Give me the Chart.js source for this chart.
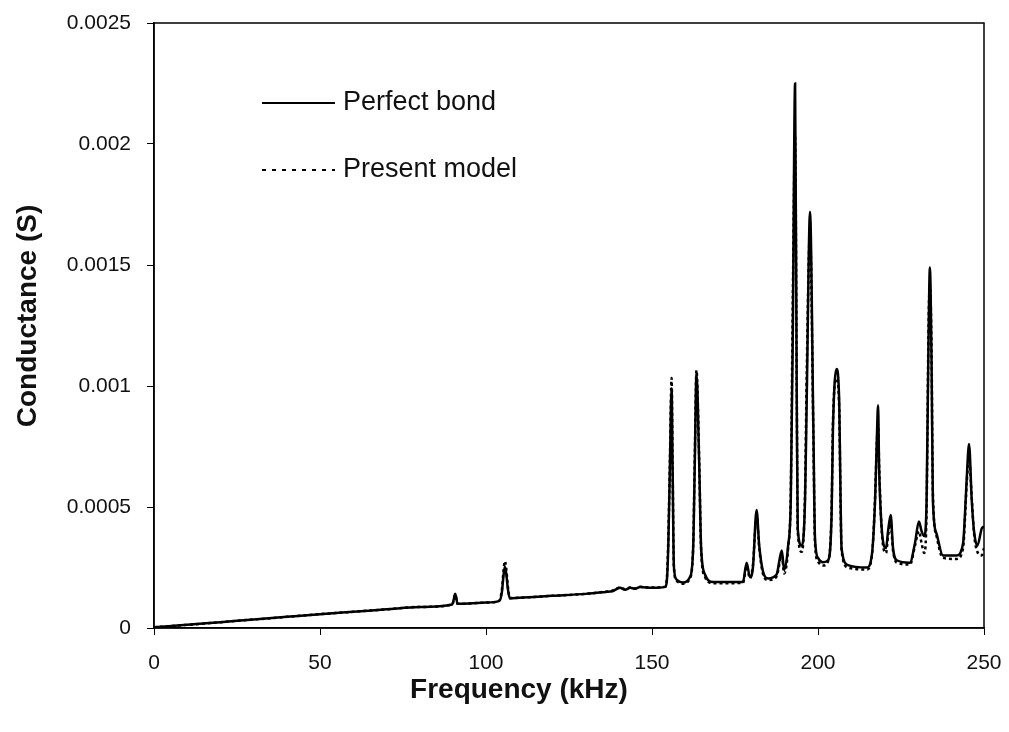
<!DOCTYPE html>
<html>
<head>
<meta charset="utf-8">
<script src="https://cdn.jsdelivr.net/npm/chart.js@4/dist/chart.umd.min.js"></script>
<style>
  html, body { margin: 0; padding: 0; background: #fff; }
  #wrap { width: 1009px; height: 732px; }
</style>
</head>
<body>
<div id="wrap"><canvas id="chart"></canvas></div>
<script>
// frequency (kHz)
const freq = [0, 10, 20, 30, 40, 50, 60, 70, 80, 89.8, 90.4, 90.7, 91.0, 91.4, 95, 100,
  104, 104.8, 105.3, 105.7, 106.1, 106.6, 107.2, 110, 120, 130, 136, 138, 140.4, 141.9,
  143.4, 144.9, 146.4, 150, 154, 154.5, 154.9, 155.4, 155.9, 156.2, 156.6, 157.4, 159.4,
  161.4, 162.4, 162.9, 163.4, 164.2, 164.8, 166, 168.4, 177.4, 178.5, 179.5, 180.4, 181.5,
  182.3, 183.5, 185, 187.5, 189.1, 189.8, 191, 191.8, 192.4, 193.1, 193.6, 193.9, 195.1,
  196.1, 196.6, 197.6, 198.6, 199.1, 200, 201.5, 203, 204.1, 204.5, 205.6, 206.4, 206.8,
  207.1, 209, 214.7, 216.2, 217.2, 217.7, 218.1, 218.4, 219.2, 220.5, 221.1, 221.9, 222.6,
  223.7, 227.7, 229.2, 230.4, 231.2, 232, 232.7, 233.3, 233.7, 234.2, 234.6, 235.7, 237.6,
  241.7, 243.7, 244.3, 244.8, 245.5, 246.3, 247, 248, 249.3, 250];

// conductance (S), perfect bond
const perfectBond = [0.000003, 0.000013, 0.000024, 0.000035, 0.000046, 0.000057, 0.000067,
  0.000077, 0.000087, 0.000097, 0.000125, 0.000142, 0.000128, 0.0001, 0.000101, 0.000105,
  0.000112, 0.00015, 0.00022, 0.000253, 0.000225, 0.00016, 0.000122, 0.000125, 0.000133,
  0.000141, 0.000149, 0.000152, 0.000166, 0.000158,
  0.000166, 0.000162, 0.000169, 0.000166, 0.00017, 0.0002, 0.000336, 0.00067, 0.00099,
  0.00067, 0.000253, 0.0002, 0.000188,
  0.00021, 0.00033, 0.00069, 0.00105, 0.00069, 0.00033, 0.00022, 0.00019, 0.00019, 0.00027,
  0.00021, 0.00025, 0.000488,
  0.00034, 0.00023, 0.000205, 0.00022, 0.00032, 0.00024, 0.00034, 0.00053, 0.0012, 0.00225,
  0.00094, 0.00041, 0.00034,
  0.00053, 0.00094, 0.00172, 0.00083, 0.00037, 0.00029, 0.000272, 0.00028, 0.00047, 0.00082,
  0.00107, 0.00093, 0.00053,
  0.00033, 0.00026, 0.00025, 0.0003, 0.00053, 0.00077, 0.00092, 0.00067, 0.00041, 0.00033,
  0.0004, 0.000467, 0.00033,
  0.00028, 0.00027, 0.00035, 0.00044, 0.0004, 0.00038, 0.00052, 0.0012, 0.00149, 0.0011,
  0.00053, 0.00039, 0.0003,
  0.0003, 0.00035, 0.00048, 0.00062, 0.00076, 0.00053, 0.0004, 0.00034, 0.00041, 0.00042];

// conductance (S), present model
const presentModel = [0.000003, 0.000013, 0.000024, 0.000035, 0.000046, 0.000057, 0.000067,
  0.000077, 0.000087, 0.000097, 0.000122, 0.000138, 0.000125, 0.0001, 0.000101, 0.000105,
  0.000113, 0.00016, 0.00024, 0.000276, 0.000245, 0.00017, 0.000124, 0.000125, 0.000133,
  0.000141, 0.00015, 0.000154, 0.000168, 0.00016,
  0.000167, 0.000163, 0.00017, 0.000167, 0.000171, 0.00021, 0.00036, 0.0007, 0.001033,
  0.00068, 0.00025, 0.000195, 0.000183,
  0.000205, 0.00034, 0.00072, 0.001065, 0.0007, 0.00032, 0.00021, 0.000185, 0.000186, 0.000255,
  0.000205, 0.00026, 0.000465,
  0.00033, 0.00022, 0.000198, 0.000212, 0.0003, 0.000225, 0.00033, 0.00056, 0.00135, 0.00203,
  0.001, 0.0004, 0.000315,
  0.00056, 0.00105, 0.00164, 0.0008, 0.00035, 0.000275, 0.000258, 0.000275, 0.00049, 0.00085,
  0.00103, 0.0009, 0.00051,
  0.00032, 0.00025, 0.000242, 0.000295, 0.00054, 0.00076, 0.00084, 0.00068, 0.0004, 0.00031,
  0.00038, 0.00043, 0.00032,
  0.00027, 0.000262, 0.00034, 0.0004, 0.00035, 0.00031, 0.00048, 0.00125, 0.00142, 0.00115,
  0.00056, 0.00038, 0.00029,
  0.000285, 0.00033, 0.00046, 0.0006, 0.0007, 0.00054, 0.00039, 0.000315, 0.0003, 0.00033];

const xTicks = [0, 50, 100, 150, 200, 250];
const yTickLabels = ["0", "0.0005", "0.001", "0.0015", "0.002", "0.0025"];
const xTitle = "Frequency (kHz)";
const yTitle = "Conductance (S)";

const FONT = "'Liberation Sans', Arial, sans-serif";

function toPoints(ys) {
  return freq.map((f, i) => ({ x: f, y: ys[i] }));
}

// box round the plot, legend inside it, axis titles
const frameAndLegend = {
  id: "frameAndLegend",
  afterDraw(chart) {
    const { ctx, chartArea } = chart;
    ctx.save();
    ctx.strokeStyle = "#000";
    ctx.lineWidth = 1.5;
    ctx.strokeRect(chartArea.left, chartArea.top, chartArea.right - chartArea.left, chartArea.bottom - chartArea.top);

    const rows = [
      { ds: chart.data.datasets[0], y: chartArea.top + 80 },
      { ds: chart.data.datasets[1], y: chartArea.top + 147 }
    ];
    const x0 = chartArea.left + 108;
    const x1 = chartArea.left + 181;
    rows.forEach(r => {
      ctx.beginPath();
      ctx.setLineDash(r.ds.borderDash ? [4, 6] : []);
      ctx.lineWidth = 2;
      ctx.strokeStyle = r.ds.borderColor;
      ctx.moveTo(x0, r.y);
      ctx.lineTo(x1, r.y);
      ctx.stroke();
      ctx.setLineDash([]);
      ctx.fillStyle = "#111";
      ctx.font = "27px " + FONT;
      ctx.textBaseline = "middle";
      ctx.textAlign = "left";
      ctx.fillText(r.ds.label, x1 + 8, r.y);
    });

    // axis titles (the x one sits left of the plot centre in the original)
    ctx.font = "bold 28px " + FONT;
    ctx.fillStyle = "#111";
    ctx.textAlign = "center";
    ctx.textBaseline = "middle";
    ctx.fillText(xTitle, 519, 690);
    ctx.translate(28, 316);
    ctx.rotate(-Math.PI / 2);
    ctx.fillText(yTitle, 0, 0);
    ctx.restore();
  }
};

new Chart(document.getElementById("chart"), {
  type: "line",
  data: {
    datasets: [
      {
        label: "Perfect bond",
        data: toPoints(perfectBond),
        borderColor: "#000",
        borderWidth: 2.5,
        pointRadius: 0,
        cubicInterpolationMode: "monotone",
        fill: false
      },
      {
        label: "Present model",
        data: toPoints(presentModel),
        borderColor: "#000",
        borderWidth: 2.5,
        borderDash: [3, 3],
        pointRadius: 0,
        cubicInterpolationMode: "monotone",
        fill: false
      }
    ]
  },
  options: {
    responsive: true,
    maintainAspectRatio: false,
    animation: false,
    layout: { padding: { left: 0, top: 23, right: 25, bottom: 0 } },
    plugins: {
      legend: { display: false },
      tooltip: { enabled: false }
    },
    scales: {
      x: {
        type: "linear",
        min: 0,
        max: 250,
        afterFit: s => { s.height = 104; s.paddingLeft = 0; s.paddingRight = 0; },
        afterBuildTicks: s => { s.ticks = xTicks.map(v => ({ value: v })); },
        grid: { display: true, drawOnChartArea: false, tickLength: 7, color: "#000", lineWidth: 1 },
        border: { display: true, color: "#000", width: 1.5 },
        ticks: { color: "#111", font: { family: FONT, size: 21 }, padding: 16, maxRotation: 0 }
      },
      y: {
        min: 0,
        max: 0.0025,
        afterFit: s => { s.width = 154; s.paddingTop = 0; s.paddingBottom = 0; },
        afterBuildTicks: s => { s.ticks = yTickLabels.map((t, i) => ({ value: i * 0.0005 })); },
        grid: { display: true, drawOnChartArea: false, tickLength: 7, color: "#000", lineWidth: 1 },
        border: { display: true, color: "#000", width: 1.5 },
        ticks: {
          color: "#111",
          font: { family: FONT, size: 21 },
          padding: 16,
          callback: (v, i) => yTickLabels[i]
        }
      }
    }
  },
  plugins: [frameAndLegend]
});
</script>
</body>
</html>
